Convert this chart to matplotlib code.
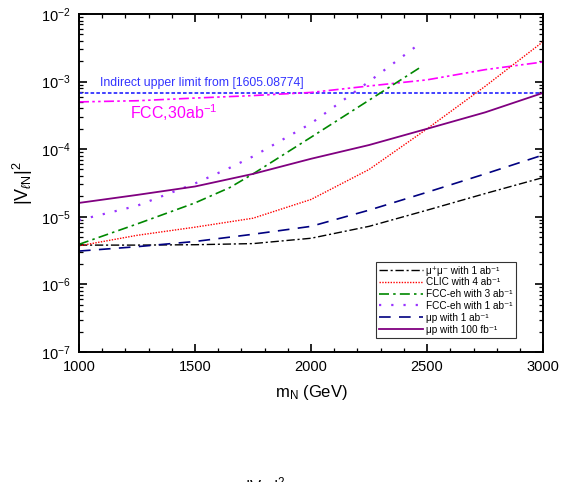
import matplotlib.pyplot as plt
from matplotlib.ticker import MultipleLocator, LogLocator, NullFormatter

plt.rcParams['font.family'] = ['Liberation Sans', 'DejaVu Sans']
plt.rcParams['mathtext.fontset'] = 'custom'
plt.rcParams['mathtext.rm'] = 'Liberation Sans'
plt.rcParams['mathtext.it'] = 'Liberation Sans:italic'

# values (m_N in GeV, |V_lN|^2)
m_full = [1000, 1250, 1500, 1750, 2000, 2250, 2500, 2750, 3000]
mumu_1ab = [3.8e-6, 3.8e-6, 3.85e-6, 4.0e-6, 4.8e-6, 7.2e-6, 1.25e-5, 2.2e-5, 3.8e-5]
clic_4ab = [3.7e-6, 5.3e-6, 7.0e-6, 9.5e-6, 1.8e-5, 5.0e-5, 2.0e-4, 8.5e-4, 3.9e-3]
mup_1ab = [3.1e-6, 3.6e-6, 4.3e-6, 5.5e-6, 7.2e-6, 1.25e-5, 2.3e-5, 4.3e-5, 8.2e-5]
mup_100fb = [1.6e-5, 2.1e-5, 2.8e-5, 4.3e-5, 7.2e-5, 1.15e-4, 2.0e-4, 3.5e-4, 6.8e-4]
fcc30 = [5.0e-4, 5.2e-4, 5.7e-4, 6.2e-4, 6.9e-4, 8.6e-4, 1.06e-3, 1.5e-3, 1.95e-3]

m_eh = [1000, 1250, 1500, 1650, 1750, 2000, 2250, 2480]
fcceh_3ab = [3.9e-6, 7.8e-6, 1.6e-5, 2.7e-5, 4.3e-5, 1.5e-4, 5.3e-4, 1.7e-3]
fcceh_1ab = [8.9e-6, 1.45e-5, 3.1e-5, 5.3e-5, 7.8e-5, 2.4e-4, 1.0e-3, 3.9e-3]

indirect_limit = 6.7e-4

fig = plt.figure(figsize=(5.64, 4.82), dpi=100)
ax = fig.add_axes([0.140, 0.270, 0.823, 0.701])

ax.axhline(indirect_limit, color='#3333ff', lw=1.3, dashes=(2, 1.2))
ax.plot(m_full, fcc30, color='#ff00ff', lw=1.2, dashes=(6, 2, 1.5, 2, 1.5, 2))

ax.plot(m_full, mumu_1ab, color='black', lw=1.0, dashes=(6, 2, 1.5, 2),
        label='μ⁺μ⁻ with 1 ab⁻¹')
ax.plot(m_full, clic_4ab, color='red', lw=1.0, dashes=(1, 1),
        label='CLIC with 4 ab⁻¹')
ax.plot(m_eh, fcceh_3ab, color='#008800', lw=1.2, dashes=(6, 2.5, 1.5, 2.5),
        label='FCC-eh with 3 ab⁻¹')
ax.plot(m_eh, fcceh_1ab, color='#9933ff', lw=1.6, dashes=(1, 4.5),
        label='FCC-eh with 1 ab⁻¹')
ax.plot(m_full, mup_1ab, color='#000080', lw=1.2, dashes=(7, 5),
        label='μp with 1 ab⁻¹')
ax.plot(m_full, mup_100fb, color='#800080', lw=1.3,
        label='μp with 100 fb⁻¹')

ax.text(1090, 9.6e-4, 'Indirect upper limit from [1605.08774]',
        color='#3333ff', fontsize=8.8, va='center')
ax.text(1220, 3.5e-4, r'FCC,30ab$^{-1}$', color='#ff00ff', fontsize=11.5,
        va='center')

ax.set_yscale('log')
ax.set_xlim(1000, 3000)
ax.set_ylim(1e-7, 1e-2)

ax.xaxis.set_major_locator(MultipleLocator(500))
ax.xaxis.set_minor_locator(MultipleLocator(100))
ax.yaxis.set_major_locator(LogLocator(base=10, numticks=10))
ax.yaxis.set_minor_locator(LogLocator(base=10, subs=range(2, 10), numticks=20))
ax.yaxis.set_minor_formatter(NullFormatter())
ax.tick_params(which='both', direction='in', top=True, right=True,
               labelsize=10.5, pad=6)
ax.tick_params(which='major', length=6, width=1.2)
ax.tick_params(which='minor', length=3, width=0.9)
for s in ax.spines.values():
    s.set_linewidth(1.4)

ax.set_xlabel(r'm$_{\rm N}$ (GeV)', fontsize=12, labelpad=6)
ax.set_ylabel(r'|V$_{\ell {\rm N}}$|$^2$', fontsize=13, labelpad=4)

leg = ax.legend(loc='lower right', bbox_to_anchor=(0.942, 0.041), fontsize=7.2,
                frameon=True, fancybox=False, edgecolor='black',
                handlelength=4.4, handletextpad=0.3, labelspacing=0.18,
                borderpad=0.35, borderaxespad=0)
leg.get_frame().set_linewidth(0.8)

# caption fragment cut at the bottom edge, as in the reference
fig.text(0.47, 0.015, r'|V$_{\ell {\rm N}}$|$^2$', fontsize=12, va='top',
         ha='center')

fig.savefig('out.png', dpi=100)
